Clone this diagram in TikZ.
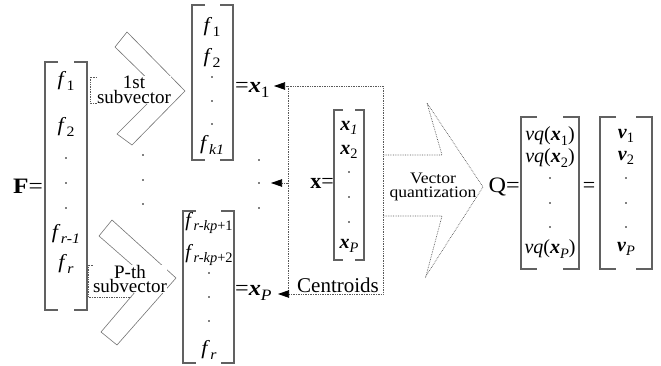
\documentclass[tikz,border=0pt]{standalone}
\usepackage{fontspec}
\setmainfont{Liberation Serif}
\usepackage{graphicx}
\usetikzlibrary{arrows.meta}
\newcommand\fsz[1]{\fontsize{#1}{#1}\selectfont}
\newcommand\sbs[1]{\raisebox{-0.22em}{\scalebox{0.72}{#1}}}
\newcommand\bxi{\textbf{\textit{x}}}
\newcommand\bvi{\textbf{\textit{v}}}
\newcommand\fv[1]{\textit{f}\kern0.3pt\sbs{#1}}
\newcommand\hs[1]{\scalebox{1.1}[1]{#1}}
\newcommand\mbrack[5]{%
  \draw[brk] (#1+#5,#3) -- (#1,#3) -- (#1,#4) -- (#1+#5,#4);
  \draw[brk] (#2-#5,#3) -- (#2,#3) -- (#2,#4) -- (#2-#5,#4);}
\tikzset{
  brk/.style={draw=black!62, line width=1.4pt},
  chev/.style={draw=black!55, line width=0.6pt},
  dotl/.style={draw=black!65, line width=0.7pt, densely dotted},
  ent/.style={inner sep=0pt, font=\fsz{20}},
  big/.style={inner sep=0pt, font=\fsz{22}},
  lab/.style={inner sep=0.5pt, fill=white, align=center, font=\fontsize{19}{12.5}\selectfont},
  pt/.style={circle, fill=black, inner sep=0pt, minimum size=1.8pt},
  arr/.style={dotl, -{Triangle[length=11pt,width=7.5pt,color=black]}},
}
\begin{document}
\begin{tikzpicture}[x=1pt,y=-1pt]
\useasboundingbox (0,0) rectangle (661,366);

% ---------- F matrix ----------
\node[big, anchor=east] (Flab) at (43,186) {\scalebox{1.15}[1]{\textbf{F}=}};
\mbrack{45}{87}{62}{310}{13}
\node[ent] (f1) at (66,81) {\hs{\fv{1}}};
\node[ent] (f2) at (66,127) {\hs{\fv{2}}};
\node[pt] (fd1) at (66,158) {};
\node[pt] (fd2) at (66,183) {};
\node[pt] (fd3) at (66,208) {};
\node[ent] (frm1) at (66,234) {\hs{\fv{\textit{r-1}}}};
\node[ent] (fr) at (66,264) {\hs{\fv{\textit{r}}}};

% ---------- top chevron ----------
\draw[chev] (115,47) -- (127,32) -- (185,91) -- (132,145) -- (117,134) -- (160,91) -- cycle;
\draw[dotl] (146,77) -- (90,77) -- (90,103) -- (148,103);
\node[lab] (l1) at (134,90) {1st\\subvector};

% ---------- vertical dots ----------
\node[pt] (vd1) at (143,155) {};
\node[pt] (vd2) at (143,180) {};
\node[pt] (vd3) at (143,204) {};

% ---------- bottom chevron ----------
\draw[chev] (99,236) -- (112,220) -- (176,278) -- (117,345) -- (101,332) -- (147,278) -- cycle;
\draw[dotl] (132,265) -- (88,265) -- (88,297) -- (131,297);
\node[lab] (l2) at (130,279) {P-th\\subvector};

% ---------- top sub-matrix ----------
\mbrack{192}{233}{5}{160}{13}
\node[ent] (s1) at (212,27) {\hs{\fv{1}}};
\node[ent] (s2) at (212,58) {\hs{\fv{2}}};
\node[pt] (sd1) at (212,77) {};
\node[pt] (sd2) at (212,101) {};
\node[pt] (sd3) at (212,124) {};
\node[ent] (sk) at (212,145) {\hs{\fv{\textit{k1}}}};
\node[big, anchor=west] (x1lab) at (235,90) {\hs{=\bxi\sbs{1}}};

% ---------- bottom sub-matrix ----------
\mbrack{183}{234}{211}{363}{13}
\node[ent] (b1) at (209,223) {\fv{\textit{r-kp}+1}};
\node[ent] (b2) at (209,255) {\fv{\textit{r-kp}+2}};
\node[pt] (bd1) at (209,273) {};
\node[pt] (bd2) at (209,297) {};
\node[pt] (bd3) at (209,321) {};
\node[ent] (br) at (209,350) {\hs{\fv{\textit{r}}}};
\node[big, anchor=west] (xPlab) at (235,293) {\hs{=\bxi\sbs{\textit{P}}}};

% ---------- middle dots ----------
\node[pt] (md1) at (259,160) {};
\node[pt] (md2) at (259,183) {};
\node[pt] (md3) at (259,208) {};

% ---------- centroid box ----------
\coordinate (bTL) at (288,86);
\coordinate (bTR) at (383,86);
\coordinate (bBR) at (383,294);
\coordinate (bBL) at (288,294);
\coordinate (bML) at (288,183);
\coordinate (t1) at (274,86);
\coordinate (t2) at (271,183);
\coordinate (t3) at (278,294);
\draw[dotl] (bTL) -- (bTR) -- (bBR) -- (bBL) -- cycle;
\draw[arr] (bTL) -- (t1);
\draw[arr] (bML) -- (t2);
\draw[arr] (bBL) -- (t3);
\node[inner sep=0pt, font=\fsz{21}, anchor=base] (cent) at (338,292) {Centroids};

\node[big, anchor=east] (xlab) at (334,183) {\textbf{x}=};
\mbrack{334}{364}{110}{260}{9}
\node[ent] (c1) at (349,128) {\bxi\sbs{\textit{1}}};
\node[ent] (c2) at (349,152) {\bxi\sbs{2}};
\node[pt] (cd1) at (349,172) {};
\node[pt] (cd2) at (349,197) {};
\node[pt] (cd3) at (349,222) {};
\node[ent] (cP) at (349,246) {\bxi\sbs{\textit{P}}};

% ---------- big arrow ----------
\coordinate (a1) at (383,155);
\coordinate (a2) at (442,155);
\coordinate (a3) at (427,103);
\coordinate (a4) at (483,187);
\coordinate (a5) at (426,276);
\coordinate (a6) at (442,216);
\coordinate (a7) at (383,216);
\draw[dotl] (a1) -- (a2) -- (a3) -- (a4) -- (a5) -- (a6) -- (a7);
\node[inner sep=0pt, font=\fontsize{16}{14}\selectfont, align=center] (vq) at (433,187)
  {\hs{Vector}\\\hs{quantization}};

% ---------- Q ----------
\node[big, anchor=east] (Qlab) at (520,187) {\scalebox{1.1}[1]{Q=}};
\mbrack{521}{579}{117}{269}{16}
\node[ent] (q1) at (550,136) {\textit{vq}(\bxi\sbs{1})};
\node[ent] (q2) at (550,158) {\textit{vq}(\bxi\sbs{2})};
\node[pt] (qd1) at (550,178) {};
\node[pt] (qd2) at (550,203) {};
\node[pt] (qd3) at (550,227) {};
\node[ent] (qP) at (550,249) {\textit{vq}(\bxi\sbs{\textit{P}})};
\node[big] (eq2) at (589,187) {=};
\mbrack{600}{652}{117}{269}{16}
\node[ent] (v1) at (626,136) {\bvi\sbs{1}};
\node[ent] (v2) at (626,158) {\bvi\sbs{2}};
\node[pt] (vd1b) at (626,178) {};
\node[pt] (vd2b) at (626,203) {};
\node[pt] (vd3b) at (626,227) {};
\node[ent] (vP) at (626,249) {\bvi\sbs{\textit{P}}};
\end{tikzpicture}
\end{document}
